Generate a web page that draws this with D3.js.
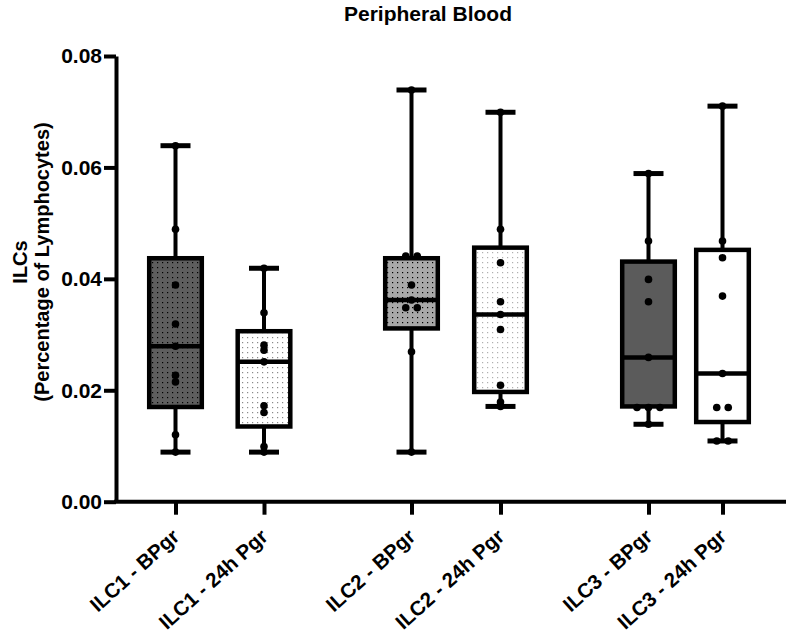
<!DOCTYPE html>
<html>
<head>
<meta charset="utf-8">
<script src="https://cdn.jsdelivr.net/npm/d3@7"></script>
<style>
  html, body { margin: 0; padding: 0; background: #fff; }
  svg { display: block; font-family: "Liberation Sans", Arial, Helvetica, sans-serif; font-weight: bold; }
</style>
</head>
<body>
<svg id="chart" width="787" height="636"></svg>
<script>
// ---------------- DATA ----------------
const title = "Peripheral Blood";
const yLabelLines = ["ILCs", "(Percentage of Lymphocytes)"];
const categories = ["ILC1 - BPgr", "ILC1 - 24h Pgr", "ILC2 - BPgr", "ILC2 - 24h Pgr", "ILC3 - BPgr", "ILC3 - 24h Pgr"];
const yTicks = [0.00, 0.02, 0.04, 0.06, 0.08];
const yTickLabels = ["0.00", "0.02", "0.04", "0.06", "0.08"];

// box statistics per category
const whiskerMin = [0.0089, 0.0089, 0.0089, 0.0171, 0.0139, 0.0109];
const q1         = [0.0170, 0.0135, 0.0311, 0.0197, 0.0171, 0.0143];
const median     = [0.0279, 0.0251, 0.0362, 0.0336, 0.0259, 0.0230];
const q3         = [0.0437, 0.0306, 0.0437, 0.0456, 0.0431, 0.0452];
const whiskerMax = [0.0639, 0.0419, 0.0739, 0.0699, 0.0589, 0.0710];

// individual points per category
const ilc1BPgr = [0.0639, 0.0489, 0.0389, 0.0319, 0.0279, 0.0227, 0.0215, 0.0120, 0.0089];
const ilc124h  = [0.0419, 0.0339, 0.0281, 0.0272, 0.0251, 0.0172, 0.0160, 0.0099, 0.0089];
const ilc2BPgr = [0.0739, 0.0441, 0.0441, 0.0389, 0.0362, 0.0348, 0.0348, 0.0269, 0.0089];
const ilc224h  = [0.0699, 0.0489, 0.0429, 0.0359, 0.0336, 0.0309, 0.0209, 0.0179, 0.0171];
const ilc3BPgr = [0.0589, 0.0468, 0.0399, 0.0359, 0.0259, 0.0169, 0.0169, 0.0169, 0.0139];
const ilc324h  = [0.0710, 0.0468, 0.0438, 0.0369, 0.0230, 0.0169, 0.0169, 0.0109, 0.0109];
const pointSets = [ilc1BPgr, ilc124h, ilc2BPgr, ilc224h, ilc3BPgr, ilc324h];

// ---------------- STYLE / LAYOUT ----------------
const fills = [
  {bg: "#5e5e5e", dot: "#000"},
  {bg: "#ffffff", dot: "#8a8a8a"},
  {bg: "#a9a9a9", dot: "#000"},
  {bg: "#ffffff", dot: "#b0b0b0"},
  {bg: "#5b5b5b", dot: null},
  {bg: "#ffffff", dot: null}
];
const xPositions = [175.5, 264, 411.5, 500.5, 648.5, 722.5];

const svg = d3.select("#chart");
const y = d3.scaleLinear().domain([0, 0.08]).range([501.7, 56]);
const x = d3.scaleOrdinal().domain(categories).range(xPositions);
const axisX = 116;
const axisRight = 786;

// patterns
const defs = svg.append("defs");
fills.forEach((f, i) => {
  if (!f.dot) return;
  const p = defs.append("pattern")
    .attr("id", "pat" + i)
    .attr("patternUnits", "userSpaceOnUse")
    .attr("width", 5).attr("height", 5);
  p.append("rect").attr("width", 5).attr("height", 5).attr("fill", f.bg);
  p.append("rect").attr("x", 2).attr("y", 2).attr("width", 1.2).attr("height", 1.2).attr("fill", f.dot);
});
const fillOf = i => fills[i].dot ? `url(#pat${i})` : fills[i].bg;

// title
svg.append("text")
  .attr("x", 428).attr("y", 21)
  .attr("text-anchor", "middle")
  .style("font-size", "21px")
  .text(title);

// y label
const yl = svg.append("g").attr("transform", "translate(31,266) rotate(-90)");
yl.append("text").attr("x", 4).attr("y", -4).attr("text-anchor", "middle").style("font-size", "20px").text(yLabelLines[0]);
yl.append("text").attr("x", 4).attr("y", 18).attr("text-anchor", "middle").style("font-size", "20px").text(yLabelLines[1]);

// y axis
const yAxis = d3.axisLeft(y).tickValues(yTicks).tickFormat((d, i) => yTickLabels[i]).tickSize(12).tickSizeOuter(0).tickPadding(2);
const gy = svg.append("g").attr("transform", `translate(${axisX},0)`).call(yAxis);
gy.select(".domain").attr("stroke", "#000").attr("stroke-width", 4);
gy.selectAll(".tick line").attr("stroke", "#000").attr("stroke-width", 4);
gy.selectAll(".tick text").attr("fill", "#000").style("font-size", "21px").style("font-family", "Liberation Sans, Arial, sans-serif").style("font-weight", "bold");

// x axis
const xAxis = d3.axisBottom(x).tickSize(13).tickSizeOuter(0);
const gx = svg.append("g").attr("transform", `translate(0,${y(0)})`).call(xAxis);
gx.select(".domain").remove();
gx.selectAll(".tick line").attr("stroke", "#000").attr("stroke-width", 4);
gx.selectAll(".tick text")
  .attr("fill", "#000")
  .attr("x", 0).attr("y", 0).attr("dy", "0.7em")
  .attr("transform", "translate(-5,26) rotate(-42)")
  .style("text-anchor", "end")
  .style("font-size", "20.5px").style("font-family", "Liberation Sans, Arial, sans-serif").style("font-weight", "bold");
svg.append("line")
  .attr("x1", axisX - 2).attr("x2", axisRight)
  .attr("y1", y(0)).attr("y2", y(0))
  .attr("stroke", "#000").attr("stroke-width", 4);

// boxes
const halfW = 26.3;
const capHalf = 15;
const plot = svg.append("g");
categories.forEach((c, i) => {
  const cx = x(c);
  const g = plot.append("g");
  // whisker
  g.append("line").attr("x1", cx).attr("x2", cx)
    .attr("y1", y(whiskerMin[i])).attr("y2", y(whiskerMax[i]))
    .attr("stroke", "#000").attr("stroke-width", 4);
  // caps
  [whiskerMin[i], whiskerMax[i]].forEach(v => {
    g.append("line").attr("x1", cx - capHalf).attr("x2", cx + capHalf)
      .attr("y1", y(v)).attr("y2", y(v))
      .attr("stroke", "#000").attr("stroke-width", 5);
  });
  // box
  g.append("rect")
    .attr("x", cx - halfW).attr("width", 2 * halfW)
    .attr("y", y(q3[i])).attr("height", y(q1[i]) - y(q3[i]))
    .attr("fill", fillOf(i))
    .attr("stroke", "#000").attr("stroke-width", 4.5);
  // median
  g.append("line").attr("x1", cx - halfW).attr("x2", cx + halfW)
    .attr("y1", y(median[i])).attr("y2", y(median[i]))
    .attr("stroke", "#000").attr("stroke-width", 4.5);
  // points, spreading identical values side by side
  const pts = pointSets[i];
  const counts = d3.rollup(pts, v => v.length, d => d);
  const seen = new Map();
  pts.forEach(v => {
    const n = counts.get(v);
    const k = seen.get(v) || 0;
    seen.set(v, k + 1);
    const off = (k - (n - 1) / 2) * 11.5;
    g.append("circle").attr("cx", cx + off).attr("cy", y(v)).attr("r", 3.8).attr("fill", "#000");
  });
});
</script>
</body>
</html>
